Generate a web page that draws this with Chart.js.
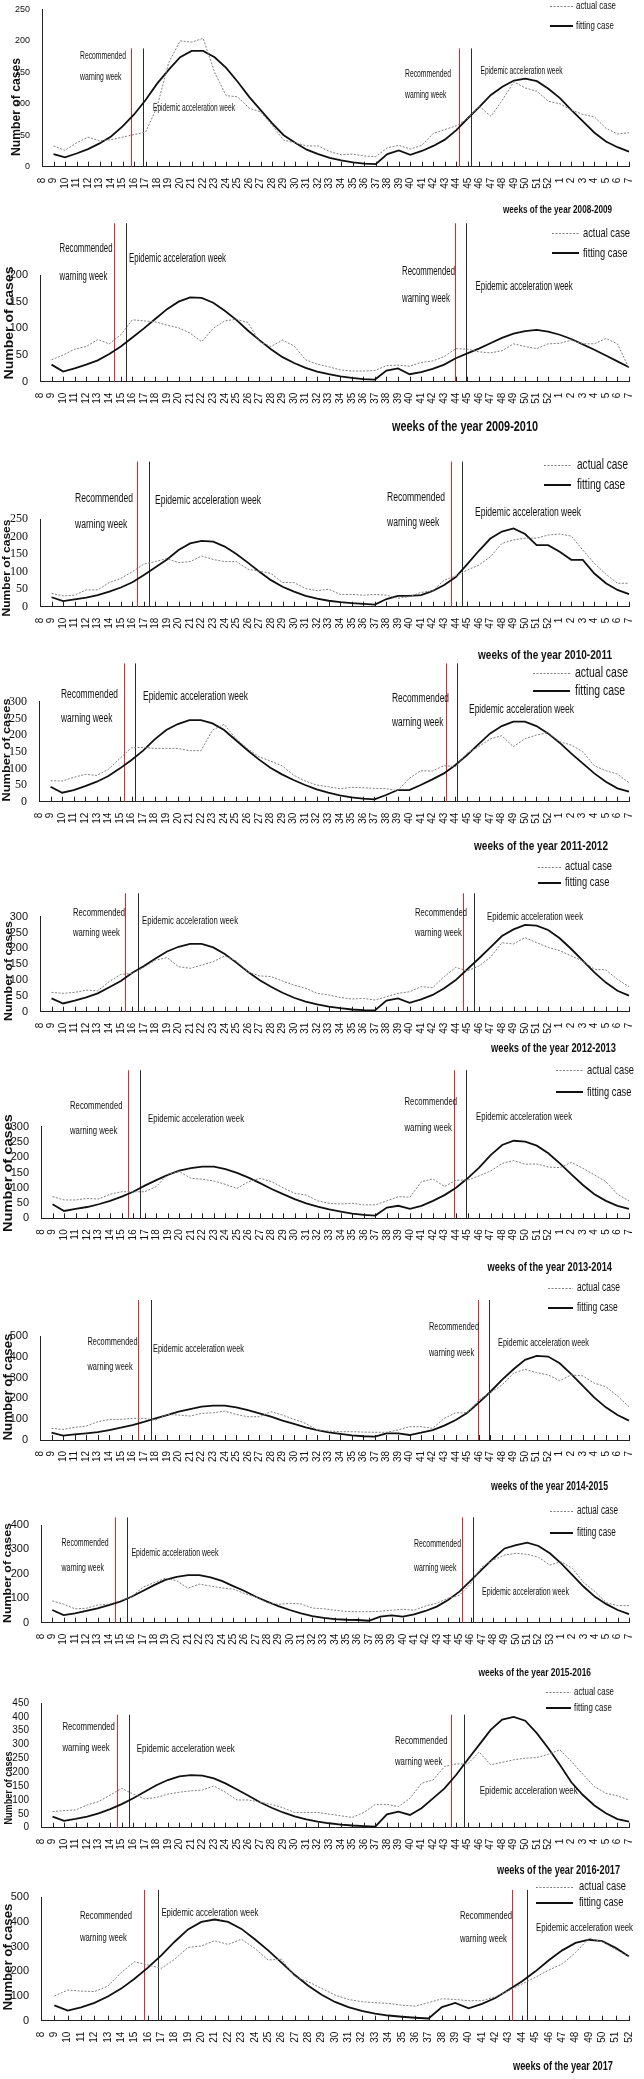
<!DOCTYPE html>
<html>
<head>
<meta charset="utf-8">
<script src="https://cdn.jsdelivr.net/npm/chart.js@4.4.0/dist/chart.umd.min.js"></script>
<style>
  html, body { margin: 0; padding: 0; background: #fff; }
  #wrap { position: relative; width: 644px; height: 2079px; overflow: hidden; }
  #wrap canvas { position: absolute; left: 0; }
</style>
</head>
<body>
<div id="wrap"></div>
<script>
// ---- week categories ----
const weeksCross = ["8","9","10","11","12","13","14","15","16","17","18","19","20","21","22","23","24","25","26","27","28","29","30",
  "31","32","33","34","35","36","37","38","39","40","41","42","43","44","45","46","47","48","49","50","51","52","1","2","3","4","5","6","7"];
const weeksCross53 = ["8","9","10","11","12","13","14","15","16","17","18","19","20","21","22","23","24","25","26","27","28","29","30",
  "31","32","33","34","35","36","37","38","39","40","41","42","43","44","45","46","47","48","49","50","51","52","53","1","2","3","4","5","6","7"];
const weeks2017 = ["8","9","10","11","12","13","14","15","16","17","18","19","20","21","22","23","24","25","26","27","28","29","30",
  "31","32","33","34","35","36","37","38","39","40","41","42","43","44","45","46","47","48","49","50","51","52"];

// ---- cases, from week 9 on (week 8 has no value) ----
const actual0809 = [33,26,38,47,41,43,47,51,55, 95,165,200,198,204,150,113,111,93,87, 66,42,38,33,33,24,19,20,17,16, 30,34,28,34,53,59,65,77,96,80, 106,135,125,120,104, 100,90,83,79,61,52,54];
const fit0809    = [20,15,21,28,37,48,64,83,106, 132,154,174,184,184,174,157,135,111,90, 69,50,38,27,20,14,10,7,5,4, 20,26,19,25,33,43,58,77,95,114, 127,137,140,136,124, 109,90,72,54,40,31,24];

const actual0910 = [41,50,61,66,79,71,88,116,114, 112,106,101,91,75,100,114,117,111,75, 66,78,67,41,33,28,22,20,20,21, 30,31,29,36,39,47,62,61,56,54, 58,71,66,62,71, 72,78,71,71,81,71,25];
const fit0910    = [32,19,25,32,40,52,66,83,100, 118,136,150,158,157,148,133,116,96,78, 61,46,35,26,19,14,10,7,5,4, 21,25,14,18,24,32,44,53,62,72, 82,90,95,97,94, 88,80,70,60,49,38,27];

const actual1011 = [38,31,33,48,48,69,81,100,122, 129,138,126,129,145,135,129,129,107,102, 95,69,69,52,46,50,35,35,33,35, 33,24,29,41,45,76,88,105,119,143, 181,191,196,196,205, 208,202,162,124,93,67,67];
const fit1011    = [27,16,21,26,33,43,55,70,91, 113,135,162,181,188,186,172,151,126,100, 76,57,43,31,23,17,13,10,8,6, 22,31,31,33,45,62,85,122,160,195, 215,224,208,176,176, 157,134,134,95,67,48,36];

const actual1112 = [63,62,73,82,79,97,130,162,163, 160,160,160,153,153,215,232,190,160,135, 122,108,80,62,50,45,39,43,42,40, 39,33,70,93,92,108,105,145,165,188, 198,165,189,200,207, 180,170,150,108,93,83,57];
const fit1112    = [45,27,35,47,60,77,100,125,153, 187,215,233,245,245,235,215,185,155,127, 102,82,65,50,37,27,19,13,9,7, 20,35,35,50,67,85,110,140,173,205, 227,240,240,227,205, 177,145,115,85,60,40,30];

const actual1213 = [61,58,61,68,66,95,118,121,140, 163,171,142,137,147,158,176,160,126,113, 111,97,84,74,58,53,45,40,42,37, 47,58,63,79,76,111,140,129,144,172, 218,214,234,218,203, 193,176,160,134,132,102,79];
const fit1213    = [42,26,35,45,58,77,97,123,144, 168,190,205,214,214,203,182,155,126,100, 79,60,44,32,23,16,11,7,5,4, 35,42,28,39,53,74,100,134,168,203, 239,260,274,272,258, 232,198,161,124,92,66,51];

const actual1314 = [71,60,60,65,63,79,87,87,87, 104,144,153,131,128,122,111,98,120,131, 120,100,82,76,57,49,47,49,44,44, 57,71,69,120,129,104,125,125,139,155, 180,189,177,178,168, 166,183,164,142,120,79,57];
const fit1314    = [46,24,31,37,46,57,71,87,107, 125,142,156,164,169,169,161,149,133,115, 96,79,63,49,38,29,22,15,11,9, 35,41,31,41,57,76,100,131,166,207, 240,254,251,238,213, 180,144,109,79,57,41,31];

const actual1415 = [56,51,61,67,88,99,99,104,104, 96,123,120,115,128,131,139,123,112,112, 136,120,99,80,48,43,40,40,38,37, 37,48,64,64,56,104,131,131,192,228, 264,321,340,324,313, 285,313,308,273,256,212,160];
const fit1415    = [35,21,27,32,38,48,59,72,87, 104,120,136,149,160,165,165,157,144,128, 112,93,77,61,48,37,29,22,18,16, 32,32,24,35,48,69,96,131,180,232, 289,340,385,404,401, 369,317,260,204,157,120,93];

const actual1516 = [89,76,57,59,72,76,90,106,145, 164,182,172,141,158,150,142,137,120,105, 82,75,79,77,60,57,51,46,45,45, 47,51,55,51,68,80,100,112,160,229, 257,277,284,280,268,236, 250,222,164,127,82,70,70];
const fit1516    = [52,31,38,48,59,72,86,106,130, 154,175,188,195,195,186,171,150,130,106, 86,68,52,38,27,20,15,12,11,8, 25,30,25,34,48,66,93,127,172,218, 263,304,318,328,314,284, 243,195,147,106,76,52,35];

const actual1617 = [58,62,64,82,94,118,142,121,104, 109,121,128,133,136,151,128,100,100,92, 84,72,55,55,55,49,43,37,55,84, 84,76,106,160,172,221,230,230,273,227, 236,245,251,253,265, 281,239,193,148,124,115,100];
const fit1617    = [40,25,32,40,52,67,85,106,130, 153,172,185,190,188,178,160,138,115,92, 72,55,41,30,22,16,11,8,6,4, 48,58,46,70,106,142,190,245,299,353, 390,400,386,341,287, 227,164,118,80,52,31,22];

const actual2017 = [100,124,120,118,140,195,239,226,212, 249,297,303,324,309,330,293,246,249,178, 158,131,104,86,77,73,70,63,59,73, 89,86,81,81,97,122,149,176,205,230, 276,334,320,289,259];
const fit2017    = [62,41,54,72,98,130,170,215,265, 320,370,400,410,400,372,330,285,235,185, 142,105,76,55,40,29,21,16,12,9, 55,72,50,68,92,125,160,200,245,285, 315,328,322,295,260];

// recommended warning week / epidemic acceleration week (category index, week 8 = 0)
const warn0809 = [7.69, 36.26], accel0809 = [8.75, 37.26];
const warn0910 = [6.43, 35.9],  accel0910 = [7.45, 36.85];
const warn1011 = [8.39, 35.6],  accel1011 = [9.45, 36.55];
const warn1112 = [7.36, 35.2],  accel1112 = [8.34, 36.1];
const warn1213 = [7.37, 36.6],  accel1213 = [8.47, 37.6];
const warn1314 = [7.56, 35.8],  accel1314 = [8.6, 36.86];
const warn1415 = [8.5, 37.9],   accel1415 = [9.63, 38.9];
const warn1516 = [6.56, 37.2],  accel1516 = [7.63, 38.2];
const warn1617 = [6.58, 35.6],  accel1617 = [7.67, 36.7];
const warn2017 = [7.7, 35.26],  accel2017 = [8.75, 36.37];

const NARROW = "'Liberation Sans Narrow','Arial Narrow','Liberation Sans',Arial,sans-serif";
const SANS = "'Liberation Sans',Arial,sans-serif";
const SERIF = "'Liberation Serif','Times New Roman',serif";

// page layout of each panel (page pixels)
const panels = [
  { weeks: weeksCross, actual: actual0809, fit: fit0809, warn: warn0809, accel: accel0809, title: "weeks of the year 2008-2009",
    T: 0, H: 218, left: 42, right: 634.5, top: 9.3, bottom: 166.7, ymax: 250, step: 50, lineTop: 188,
    yFont: { size: 9, family: NARROW }, ylab: [17, 107, 98, 12],
    legend: { x0: 550, x1: 573, tx: 576, w: 40, y1: 6, y2: 26, size: 11 },
    ann: { size: 10, wr: 46, we: 82, L: [80, 56, 77, 153, 108], R: [405, 74, 95, 480.5, 71] },
    ttl: [503, 210, 109, 11] },
  { weeks: weeksCross, actual: actual0910, fit: fit0910, warn: warn0910, accel: accel0910, title: "weeks of the year 2009-2010",
    T: 218, H: 217, left: 40, right: 635, top: 275, bottom: 381.7, ymax: 200, step: 50, lineTop: 297,
    yFont: { size: 11, family: NARROW }, ylab: [10, 323, 113, 12],
    legend: { x0: 552, x1: 579, tx: 583, w: 47, y1: 233, y2: 253, size: 13 },
    ann: { size: 12, wr: 53, we: 97, L: [59.5, 249, 277, 129, 259], R: [402, 272, 299, 475.6, 287] },
    ttl: [392, 427, 146, 14] },
  { weeks: weeksCross, actual: actual1011, fit: fit1011, warn: warn1011, accel: accel1011, title: "weeks of the year 2010-2011",
    T: 435, H: 227, left: 40, right: 634.5, top: 519.3, bottom: 606.7, ymax: 250, step: 50, lineTop: 415,
    yFont: { size: 12, family: SERIF }, ylab: [7, 568, 97, 11],
    legend: { x0: 544, x1: 571, tx: 577, w: 51, y1: 465, y2: 485, size: 14 },
    ann: { size: 12, wr: 58, we: 106, L: [75, 499, 525, 155, 501], R: [387, 498, 523, 475, 513] },
    ttl: [478, 655, 134, 13] },
  { weeks: weeksCross, actual: actual1112, fit: fit1112, warn: warn1112, accel: accel1112, title: "weeks of the year 2011-2012",
    T: 662, H: 191, left: 39, right: 636.6, top: 701.7, bottom: 801.7, ymax: 300, step: 50, lineTop: 415,
    yFont: { size: 12, family: SERIF }, ylab: [7, 750, 103, 11],
    legend: { x0: 533, x1: 570, tx: 575, w: 53, y1: 673, y2: 691, size: 14 },
    ann: { size: 12, wr: 57, we: 105, L: [61, 695, 719, 143, 697], R: [392, 699, 723, 469, 710] },
    ttl: [474, 846, 134, 13] },
  { weeks: weeksCross, actual: actual1213, fit: fit1213, warn: warn1213, accel: accel1213, title: "weeks of the year 2012-2013",
    T: 853, H: 204, left: 40, right: 635.7, top: 916.7, bottom: 1011.7, ymax: 300, step: 50, lineTop: 374,
    yFont: { size: 11, family: NARROW }, ylab: [9, 971, 100, 11],
    legend: { x0: 538, x1: 561, tx: 565, w: 47, y1: 867, y2: 883, size: 12 },
    ann: { size: 11, wr: 52, we: 96, L: [73, 913, 933, 142, 921], R: [415, 913, 933, 487, 917] },
    ttl: [491, 1049, 125, 12] },
  { weeks: weeksCross, actual: actual1314, fit: fit1314, warn: warn1314, accel: accel1314, title: "weeks of the year 2013-2014",
    T: 1057, H: 220, left: 41, right: 637.8, top: 1126.7, bottom: 1218.3, ymax: 300, step: 50, lineTop: 485,
    yFont: { size: 11, family: NARROW }, ylab: [9, 1173, 118, 12],
    legend: { x0: 556, x1: 583, tx: 587, w: 47, y1: 1070, y2: 1092, size: 13 },
    ann: { size: 11, wr: 52.5, we: 96, L: [70, 1106, 1131, 148, 1119], R: [404.5, 1102, 1128, 476, 1117] },
    ttl: [487.5, 1268, 124.5, 12] },
  { weeks: weeksCross, actual: actual1415, fit: fit1415, warn: warn1415, accel: accel1415, title: "weeks of the year 2014-2015",
    T: 1277, H: 219, left: 40, right: 637.8, top: 1336, bottom: 1440, ymax: 500, step: 100, lineTop: 673,
    yFont: { size: 11, family: NARROW }, ylab: [9, 1387, 107, 12],
    legend: { x0: 548, x1: 573, tx: 577, w: 43, y1: 1288, y2: 1308, size: 12 },
    ann: { size: 11, wr: 50, we: 91, L: [87.5, 1342, 1367, 153, 1349], R: [429, 1327, 1353, 498, 1343] },
    ttl: [491, 1487, 117, 12] },
  { weeks: weeksCross53, actual: actual1516, fit: fit1516, warn: warn1516, accel: accel1516, title: "weeks of the year 2015-2016",
    T: 1496, H: 186, left: 41, right: 636.6, top: 1525, bottom: 1622.7, ymax: 400, step: 100, lineTop: 431,
    yFont: { size: 11, family: NARROW }, ylab: [8, 1573, 100, 11],
    legend: { x0: 550, x1: 573, tx: 577, w: 41, y1: 1511, y2: 1533, size: 12 },
    ann: { size: 11, wr: 47, we: 87, L: [61.6, 1543, 1568, 131.4, 1553], R: [414, 1544, 1568, 482, 1592] },
    ttl: [478.5, 1673, 112.5, 11] },
  { weeks: weeksCross, actual: actual1617, fit: fit1617, warn: warn1617, accel: accel1617, title: "weeks of the year 2016-2017",
    T: 1682, H: 198, left: 41, right: 636.6, top: 1703, bottom: 1827.7, ymax: 450, step: 50, lineTop: 408,
    yFont: { size: 10, family: SANS }, ylab: [9, 1788, 73, 10],
    legend: { x0: 546, x1: 571, tx: 574, w: 40, y1: 1692, y2: 1708, size: 11 },
    ann: { size: 11, wr: 52.5, we: 98, L: [62.4, 1727, 1748, 136.8, 1749], R: [395, 1741, 1762, 479.7, 1791] },
    ttl: [497, 1871, 123, 12] },
  { weeks: weeks2017, actual: actual2017, fit: fit2017, warn: warn2017, accel: accel2017, title: "weeks of the year 2017",
    T: 1880, H: 199, left: 41, right: 634.5, top: 1897.3, bottom: 2020.7, ymax: 500, step: 100, lineTop: 530,
    yFont: { size: 11, family: NARROW }, ylab: [9, 1957, 107, 12],
    legend: { x0: 536, x1: 573, tx: 579, w: 47, y1: 1887, y2: 1903, size: 12 },
    ann: { size: 11, wr: 52, we: 97, L: [80, 1916, 1938, 161.4, 1913], R: [460, 1916, 1939, 536, 1928] },
    ttl: [513, 2067, 100, 12] }
];

// draws text squeezed to width w (or with scale k), returns the scale used
function txt(ctx, s, x, y, font, w, o) {
  o = o || {};
  ctx.save();
  ctx.font = font;
  const k = w ? w / ctx.measureText(s).width : (o.k || 1);
  ctx.translate(x, y);
  if (o.rot) ctx.rotate(-Math.PI / 2);
  ctx.scale(k, 1);
  ctx.textAlign = o.align || "left";
  ctx.textBaseline = "middle";
  ctx.fillStyle = "#111";
  ctx.fillText(s, 0, 0);
  ctx.restore();
  return k;
}

function decor(p) {
  return {
    id: "decor",
    beforeDatasetsDraw(chart) {
      const { ctx, chartArea: a, scales: { x, y } } = chart;
      ctx.save();
      // small tick marks standing on the axis
      ctx.strokeStyle = "#222";
      ctx.lineWidth = 1;
      for (let i = 1; i < x.ticks.length; i++) {
        const px = Math.round(x.getPixelForTick(i)) + 0.5;
        ctx.beginPath(); ctx.moveTo(px, a.bottom); ctx.lineTo(px, a.bottom - 5); ctx.stroke();
      }
      const top = y.getPixelForValue(p.lineTop);
      const vline = (v, col) => {
        const px = Math.round(x.getPixelForValue(v)) + 0.5;
        ctx.strokeStyle = col;
        ctx.beginPath(); ctx.moveTo(px, top); ctx.lineTo(px, a.bottom); ctx.stroke();
      };
      p.warn.forEach(v => vline(v, "#e5262b"));
      p.accel.forEach(v => vline(v, "#2b2b2b"));
      ctx.restore();
    },
    afterDraw(chart) {
      const ctx = chart.ctx, T = p.T;
      // legend
      const lg = p.legend;
      ctx.save();
      ctx.lineWidth = 1;
      ctx.strokeStyle = "#808080";
      ctx.setLineDash([2, 1.5]);
      ctx.beginPath(); ctx.moveTo(lg.x0, lg.y1 - T + 0.5); ctx.lineTo(lg.x1, lg.y1 - T + 0.5); ctx.stroke();
      ctx.setLineDash([]);
      ctx.lineWidth = 2;
      ctx.strokeStyle = "#111";
      ctx.beginPath(); ctx.moveTo(lg.x0, lg.y2 - T); ctx.lineTo(lg.x1, lg.y2 - T); ctx.stroke();
      ctx.restore();
      const lf = lg.size + "px " + NARROW;
      const lk = txt(ctx, chart.data.datasets[0].label, lg.tx, lg.y1 - T, lf, lg.w);
      txt(ctx, chart.data.datasets[1].label, lg.tx, lg.y2 - T, lf, 0, { k: lk });
      // week annotations
      const an = p.ann, af = an.size + "px " + NARROW;
      [an.L, an.R].forEach(g => {
        const k = txt(ctx, "Recommended", g[0], g[1] - T, af, an.wr);
        txt(ctx, "warning week", g[0], g[2] - T, af, 0, { k });
        txt(ctx, "Epidemic acceleration week", g[3], g[4] - T, af, an.we);
      });
      // axis title and bottom-right caption
      txt(ctx, "Number of cases", p.ylab[0], p.ylab[1] - T, "bold " + p.ylab[3] + "px " + SANS, p.ylab[2], { rot: true, align: "center" });
      txt(ctx, p.title, p.ttl[0], p.ttl[1] - T, "bold " + p.ttl[3] + "px " + NARROW, p.ttl[2]);
    }
  };
}

const wrap = document.getElementById("wrap");
panels.forEach(p => {
  const cv = document.createElement("canvas");
  cv.width = 644;
  cv.height = p.H;
  cv.style.top = p.T + "px";
  cv.style.width = "644px";
  cv.style.height = p.H + "px";
  wrap.appendChild(cv);
  new Chart(cv, {
    type: "line",
    data: {
      labels: p.weeks,
      datasets: [
        { label: "actual case", data: [null].concat(p.actual), borderColor: "#7f7f7f", borderWidth: 1,
          borderDash: [2, 1.5], pointRadius: 0, tension: 0, fill: false },
        { label: "fitting case", data: [null].concat(p.fit), borderColor: "#111", borderWidth: 1.8,
          pointRadius: 0, tension: 0, fill: false }
      ]
    },
    options: {
      responsive: false,
      animation: false,
      devicePixelRatio: 1,
      events: [],
      layout: { padding: { left: 0, right: 644 - p.right, top: p.top - p.T, bottom: 0 } },
      plugins: { legend: { display: false }, tooltip: { enabled: false } },
      scales: {
        x: {
          grid: { display: false },
          border: { color: "#222", width: 1 },
          ticks: { autoSkip: false, maxRotation: 90, minRotation: 90, padding: 3, color: "#111",
                   font: { size: 10, family: NARROW } },
          afterFit: s => { s.height = p.T + p.H - p.bottom; }
        },
        y: {
          min: 0, max: p.ymax,
          grid: { display: false },
          border: { color: "#222", width: 1 },
          ticks: { stepSize: p.step, autoSkip: false, padding: 4, color: "#111", font: p.yFont },
          afterFit: s => { s.width = p.left; }
        }
      }
    },
    plugins: [decor(p)]
  });
});
</script>
</body>
</html>
